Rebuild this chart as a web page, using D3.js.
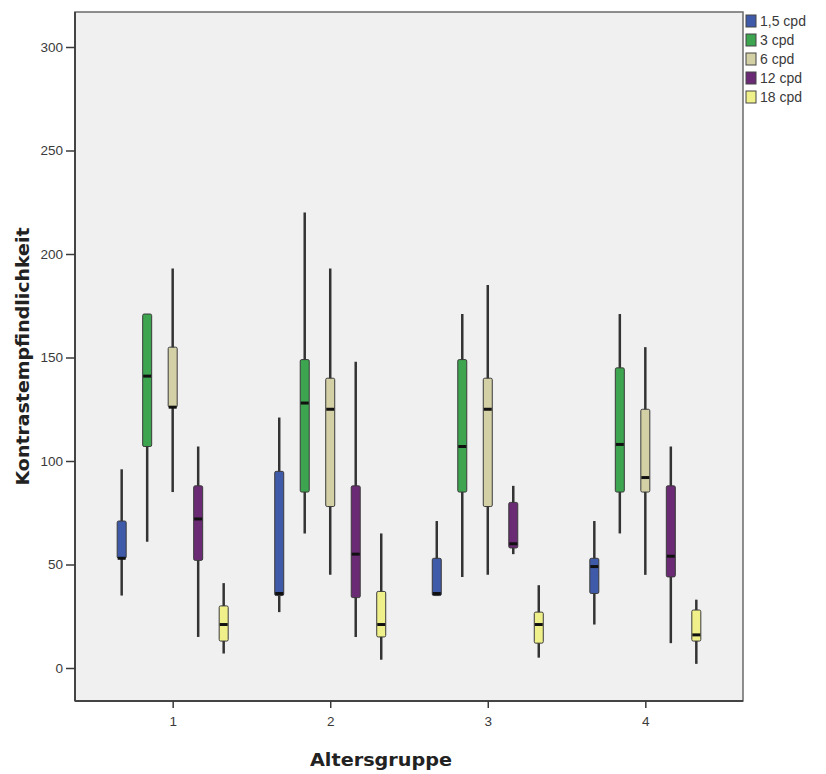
<html>
<head>
<style>
  body { margin: 0; background: #fff; }
  svg text { font-family: "Liberation Sans", Arial, sans-serif; }
  .axis text { fill: #3a3a3a; font-size: 13.5px; }
  .axis line { stroke: #3a3a3a; stroke-width: 1.5; }
  .axis path { display: none; }
  .title { font-family: "DejaVu Sans", sans-serif; font-weight: bold; font-size: 17px; fill: #222; }
  .legend text { fill: #3a3a3a; font-size: 14px; }
</style>
</head>
<body>
<svg class="chart" width="826" height="774"></svg>
<script src="https://d3js.org/d3.v7.min.js"></script>
<script>
// Altersgruppe categories and frequencies
var groups = [1, 2, 3, 4];
var series = ["1,5 cpd", "3 cpd", "6 cpd", "12 cpd", "18 cpd"];
var colors = ["#3f5aa8", "#3da44f", "#d4d0a6", "#6b2b74", "#f0f08a"];
var yTicks = [0, 50, 100, 150, 200, 250, 300];

// [lower whisker, Q1, median, Q3, upper whisker] per Altersgruppe
var cpd1_5 = [[35, 53, 53, 71, 96], [27, 35, 36, 95, 121], [35, 35, 36, 53, 71], [21, 36, 49, 53, 71]];
var cpd3   = [[61, 107, 141, 171, 171], [65, 85, 128, 149, 220], [44, 85, 107, 149, 171], [65, 85, 108, 145, 171]];
var cpd6   = [[85, 126, 126, 155, 193], [45, 78, 125, 140, 193], [45, 78, 125, 140, 185], [45, 85, 92, 125, 155]];
var cpd12  = [[15, 52, 72, 88, 107], [15, 34, 55, 88, 148], [55, 58, 60, 80, 88], [12, 44, 54, 88, 107]];
var cpd18  = [[7, 13, 21, 30, 41], [4, 15, 21, 37, 65], [5, 12, 21, 27, 40], [2, 13, 16, 28, 33]];

var allSeries = [cpd1_5, cpd3, cpd6, cpd12, cpd18];
var boxes = [];
allSeries.forEach(function(s, si) {
  s.forEach(function(v, gi) {
    boxes.push({ group: groups[gi], series: series[si], lo: v[0], q1: v[1], med: v[2], q3: v[3], hi: v[4] });
  });
});

var frame = { left: 75, right: 743, top: 12, bottom: 701 };
var boxWidth = 9;

var chart = d3.select('.chart');

var x = d3.scalePoint()
  .domain(groups)
  .range([frame.left, frame.right])
  .padding(0.62);

var offset = d3.scalePoint()
  .domain(series)
  .range([-51, 51]);

var y = d3.scaleLinear()
  .domain([0, 300])
  .range([668, 47]);

var color = d3.scaleOrdinal()
  .domain(series)
  .range(colors);

// plot background
chart.append('rect')
  .attr('x', frame.left)
  .attr('y', frame.top)
  .attr('width', frame.right - frame.left)
  .attr('height', frame.bottom - frame.top)
  .style('fill', '#f0f0f0')
  .style('stroke', '#6a6a6a')
  .style('stroke-width', 1.5);

chart.append('line')
  .attr('x1', frame.left).attr('x2', frame.left)
  .attr('y1', frame.top).attr('y2', frame.bottom)
  .style('stroke', '#444').style('stroke-width', 2);
chart.append('line')
  .attr('x1', frame.left).attr('x2', frame.right)
  .attr('y1', frame.bottom).attr('y2', frame.bottom)
  .style('stroke', '#444').style('stroke-width', 2);

chart.append('g')
  .attr('class', 'axis')
  .attr('transform', 'translate(' + frame.left + ',0)')
  .call(d3.axisLeft(y).tickValues(yTicks).tickSize(9).tickPadding(3));

chart.append('g')
  .attr('class', 'axis')
  .attr('transform', 'translate(0,' + frame.bottom + ')')
  .call(d3.axisBottom(x).tickSize(7).tickPadding(8));

// boxes
var box = chart.selectAll('g.box')
  .data(boxes)
  .enter()
  .append('g')
  .attr('class', 'box')
  .attr('transform', function(d) { return 'translate(' + (x(d.group) + offset(d.series)) + ',0)'; });

box.append('line')
  .attr('x1', 0).attr('x2', 0)
  .attr('y1', function(d) { return y(d.hi); })
  .attr('y2', function(d) { return y(d.lo); })
  .style('stroke', '#333')
  .style('stroke-width', 2.5);

box.append('rect')
  .attr('x', -boxWidth / 2)
  .attr('width', boxWidth)
  .attr('y', function(d) { return y(d.q3); })
  .attr('height', function(d) { return y(d.q1) - y(d.q3); })
  .attr('rx', 1.5)
  .style('fill', function(d) { return color(d.series); })
  .style('stroke', '#3a3a3a')
  .style('stroke-width', 1);

box.append('line')
  .attr('x1', -boxWidth / 2 + 0.5).attr('x2', boxWidth / 2 - 0.5)
  .attr('y1', function(d) { return y(d.med); })
  .attr('y2', function(d) { return y(d.med); })
  .style('stroke', '#111')
  .style('stroke-width', 3);

// axis titles
chart.append('text')
  .attr('class', 'title')
  .attr('transform', 'translate(29,' + ((frame.top + frame.bottom) / 2) + ') rotate(-90)')
  .attr('text-anchor', 'middle')
  .attr('textLength', 258)
  .attr('lengthAdjust', 'spacingAndGlyphs')
  .text('Kontrastempfindlichkeit');

chart.append('text')
  .attr('class', 'title')
  .attr('x', (frame.left + frame.right) / 2 - 28)
  .attr('y', 766)
  .attr('text-anchor', 'middle')
  .attr('textLength', 142)
  .attr('lengthAdjust', 'spacingAndGlyphs')
  .text('Altersgruppe');

// legend
var legend = chart.append('g')
  .attr('class', 'legend')
  .selectAll('g')
  .data(series)
  .enter()
  .append('g')
  .attr('transform', function(d, i) { return 'translate(746,' + (21 + i * 19) + ')'; });

legend.append('rect')
  .attr('x', 0).attr('y', -6)
  .attr('width', 10).attr('height', 12)
  .style('fill', function(d) { return color(d); })
  .style('stroke', '#444')
  .style('stroke-width', 1);

legend.append('text')
  .attr('x', 14)
  .attr('y', 0)
  .attr('dy', '0.35em')
  .text(function(d) { return d; });
</script>
</body>
</html>
